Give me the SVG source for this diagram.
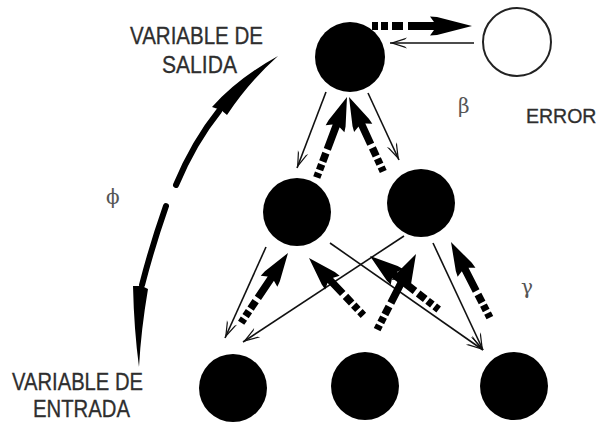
<svg xmlns="http://www.w3.org/2000/svg" xmlns:xlink="http://www.w3.org/1999/xlink" width="598" height="425" viewBox="0 0 598 425">
  <style>
    .node { fill: #000; }
    .err { fill: #fff; stroke: #222; stroke-width: 2; }
    .lbl { font-family: "Liberation Sans", Arial, sans-serif; font-size: 23px; fill: #2e2e2e; stroke: #2e2e2e; stroke-width: 0.3; }
    .lbl2 { font-family: "Liberation Sans", Arial, sans-serif; font-size: 19.5px; fill: #2e2e2e; stroke: #2e2e2e; stroke-width: 0.3; }
    .greek { font-family: "DejaVu Serif", "Liberation Serif", serif; font-size: 20px; fill: #555; }
    .thin { stroke: #111; stroke-width: 1.6; fill: none; marker-end: url(#thinhead); }
    .shaft { stroke: #000; stroke-width: 7.5; fill: none; stroke-dasharray: 5 3 6 3 9 4 300; }
    .shafth { stroke: #000; stroke-width: 8; fill: none; stroke-dasharray: 6 3 7 4 11 5 300; }
    .swoosh { stroke: #000; stroke-width: 6; fill: none; stroke-linecap: round; }
  </style>
  <defs>
    <marker id="thinhead" markerUnits="userSpaceOnUse" markerWidth="20" markerHeight="14" viewBox="-18 -7 20 14" refX="0" refY="0" orient="auto">
      <path d="M0,0 L-17,-5.5 L-15,-3.6 L-4,0 L-15,3.6 L-17,5.5 Z" fill="#111"/>
    </marker>
    <path id="headH" d="M0,0 L-35,-9 L-42,-9.5 L-38,-4 L-38,4 L-42,9.5 L-35,9 Z" fill="#000"/>
    <path id="headD" d="M0,0 L-28,-9 L-34,-10 L-31,-4 L-31,4 L-34,10 L-28,9 Z" fill="#000"/>
  </defs>

  <g id="labels">
    <text class="lbl" x="130" y="43.5" textLength="133" lengthAdjust="spacingAndGlyphs">VARIABLE DE</text>
    <text class="lbl" x="162" y="73" textLength="75" lengthAdjust="spacingAndGlyphs">SALIDA</text>
    <text class="lbl" x="12" y="390" textLength="131" lengthAdjust="spacingAndGlyphs">VARIABLE DE</text>
    <text class="lbl" x="33" y="417" textLength="97" lengthAdjust="spacingAndGlyphs">ENTRADA</text>
    <text class="lbl2" x="526" y="123">ERROR</text>
    <text class="greek" x="458" y="113">β</text>
    <text class="greek" x="521" y="294">γ</text>
    <text class="greek" x="106" y="204">ϕ</text>
  </g>

  <g id="node-output"><circle class="node" cx="350" cy="57" r="35"/></g>
  <g id="node-error"><circle class="err" cx="517" cy="42" r="34"/></g>
  <g id="node-hidden-1"><circle class="node" cx="297" cy="212" r="34"/></g>
  <g id="node-hidden-2"><circle class="node" cx="421" cy="203" r="34"/></g>
  <g id="node-input-1"><circle class="node" cx="233" cy="388" r="34"/></g>
  <g id="node-input-2"><circle class="node" cx="365" cy="386" r="34"/></g>
  <g id="node-input-3"><circle class="node" cx="514" cy="386" r="34"/></g>

  <g id="connectors">
    <line class="thin" x1="474" y1="43" x2="390" y2="43"/>
    <line class="thin" x1="326" y1="92" x2="297" y2="168"/>
    <line class="thin" x1="368" y1="93" x2="399" y2="160"/>
    <line class="thin" x1="266" y1="247" x2="225" y2="338"/>
    <line class="thin" x1="404" y1="236" x2="243" y2="342"/>
    <line class="thin" x1="330" y1="243" x2="483" y2="350"/>
    <line class="thin" x1="433" y1="243" x2="483" y2="350"/>

    <g transform="translate(472,26)"><line class="shafth" x1="-100" y1="0" x2="-38" y2="0"/><use xlink:href="#headH"/></g>
    <g transform="translate(347,97) rotate(-69.4)"><line class="shaft" x1="-86" y1="0" x2="-29" y2="0"/><use xlink:href="#headD"/></g>
    <g transform="translate(349,97) rotate(-114.7)"><line class="shaft" x1="-82" y1="0" x2="-29" y2="0"/><use xlink:href="#headD"/></g>
    <g transform="translate(288,253) rotate(-56.1)"><line class="shaft" x1="-84" y1="0" x2="-29" y2="0"/><use xlink:href="#headD"/></g>
    <g transform="translate(309,258) rotate(-133.5)"><line class="shaft" x1="-79" y1="0" x2="-29" y2="0"/><use xlink:href="#headD"/></g>
    <g transform="translate(416,254) rotate(-62.8)"><line class="shaft" x1="-85" y1="0" x2="-29" y2="0"/><use xlink:href="#headD"/></g>
    <g transform="translate(370,256) rotate(-142.1)"><line class="shaft" x1="-87" y1="0" x2="-29" y2="0"/><use xlink:href="#headD"/></g>
    <g transform="translate(451,242) rotate(-117.2)"><line class="shaft" x1="-85" y1="0" x2="-29" y2="0"/><use xlink:href="#headD"/></g>

    <path class="swoosh" d="M176,185 Q194,142 219,111"/>
    <path d="M212,107 Q238,78 278,56 Q249,82 227,115 L221,110 Z" fill="#000"/>
    <path class="swoosh" d="M166,206 Q152,246 142,285"/>
    <path d="M133,286 Q134,330 139,367 Q141,330 148,289 L142,286 Z" fill="#000"/>
  </g>
</svg>
